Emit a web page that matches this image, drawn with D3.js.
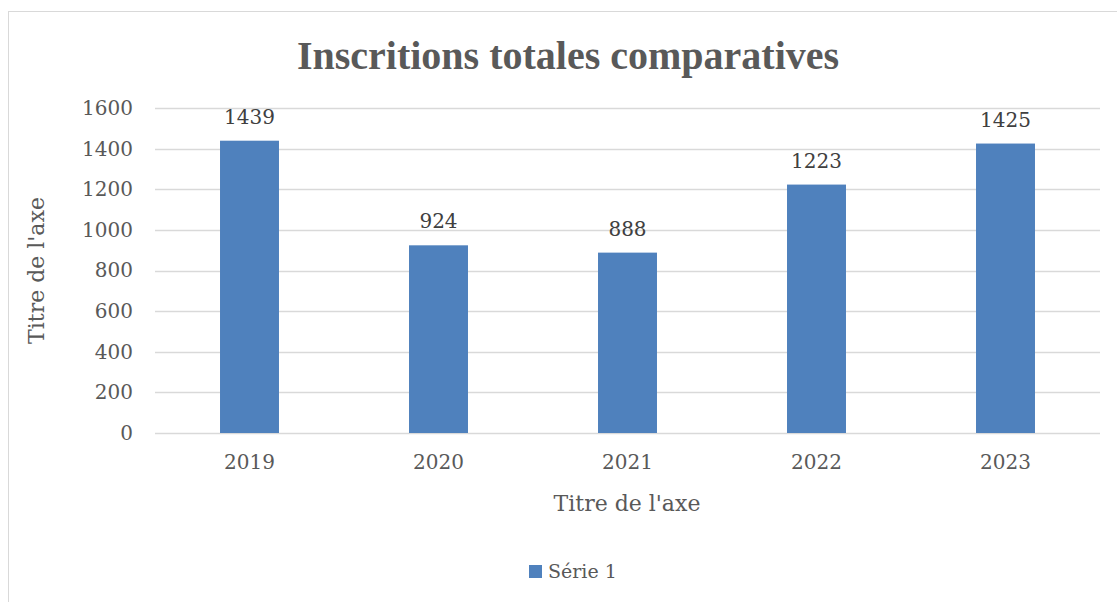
<!DOCTYPE html>
<html>
<head>
<meta charset="utf-8">
<script src="https://cdn.jsdelivr.net/npm/d3@7"></script>
<style>
  body { margin: 0; background: #fff; }
  text { fill: #595959; font-family: "DejaVu Serif", serif; }
</style>
</head>
<body>
<svg id="chart" width="1117" height="602"></svg>
<script>
// chart data
var years = ["2019", "2020", "2021", "2022", "2023"];
var inscriptions = [1439, 924, 888, 1223, 1425];
var yTicks = [0, 200, 400, 600, 800, 1000, 1200, 1400, 1600];

var svg = d3.select("#chart");

// outer chart frame (cut off on the right and bottom)
svg.append("rect")
    .attr("x", 8.5).attr("y", 11.5)
    .attr("width", 1200).attr("height", 700)
    .attr("fill", "none")
    .attr("stroke", "#d9d9d9");

var plotLeft = 155, plotRight = 1100, plotTop = 108, plotBottom = 433;

var x = d3.scaleBand()
    .domain(years)
    .range([plotLeft, plotRight])
    .paddingInner(0.688)
    .paddingOuter(0.344);

var y = d3.scaleLinear()
    .domain([0, 1600])
    .range([plotBottom, plotTop]);

// gridlines
svg.append("g")
    .selectAll("line")
    .data(yTicks)
    .join("line")
    .attr("x1", plotLeft).attr("x2", plotRight)
    .attr("y1", function(d) { return Math.round(y(d)) + 0.5; })
    .attr("y2", function(d) { return Math.round(y(d)) + 0.5; })
    .attr("stroke", "#d9d9d9")
    .attr("stroke-width", 1.5);

// y axis labels
var yAxis = svg.append("g")
    .attr("transform", "translate(" + (plotLeft - 10) + ",0)")
    .call(d3.axisLeft(y).tickValues(yTicks).tickFormat(d3.format("d")).tickSize(0).tickPadding(12));
yAxis.select(".domain").remove();
yAxis.selectAll("text")
    .style("font-size", "20px")
    .style("fill", "#595959");

// bars
svg.append("g")
    .selectAll("rect")
    .data(inscriptions)
    .join("rect")
    .attr("x", function(d, i) { return x(years[i]); })
    .attr("y", function(d) { return y(d); })
    .attr("width", x.bandwidth())
    .attr("height", function(d) { return y(0) - y(d); })
    .attr("fill", "#4f81bd");

// value labels
svg.append("g")
    .selectAll("text")
    .data(inscriptions)
    .join("text")
    .attr("x", function(d, i) { return x(years[i]) + x.bandwidth() / 2; })
    .attr("y", function(d) { return y(d) - 17; })
    .attr("text-anchor", "middle")
    .style("font-size", "20px")
    .style("fill", "#404040")
    .text(function(d) { return d; });

// x axis
var xAxis = svg.append("g")
    .attr("transform", "translate(0," + plotBottom + ")")
    .call(d3.axisBottom(x).tickSize(0).tickPadding(22));
xAxis.select(".domain").remove();
xAxis.selectAll("text")
    .style("font-size", "20px")
    .style("fill", "#595959");

// title
svg.append("text")
    .attr("x", 568).attr("y", 69)
    .attr("text-anchor", "middle")
    .style("font-family", "'Liberation Serif'")
    .style("font-weight", "bold")
    .style("font-size", "40px")
    .text("Inscritions totales comparatives");

// axis titles
svg.append("text")
    .attr("x", 627).attr("y", 511)
    .attr("text-anchor", "middle")
    .style("font-size", "22px")
    .text("Titre de l'axe");

svg.append("text")
    .attr("transform", "translate(44," + ((plotTop + plotBottom) / 2) + ") rotate(-90)")
    .attr("text-anchor", "middle")
    .style("font-size", "22px")
    .text("Titre de l'axe");

// legend
var legend = svg.append("g").attr("transform", "translate(529,565)");
legend.append("rect")
    .attr("width", 13).attr("height", 13)
    .attr("fill", "#4f81bd");
legend.append("text")
    .attr("x", 19).attr("y", 13)
    .style("font-size", "19px")
    .text("Série 1");
</script>
</body>
</html>
